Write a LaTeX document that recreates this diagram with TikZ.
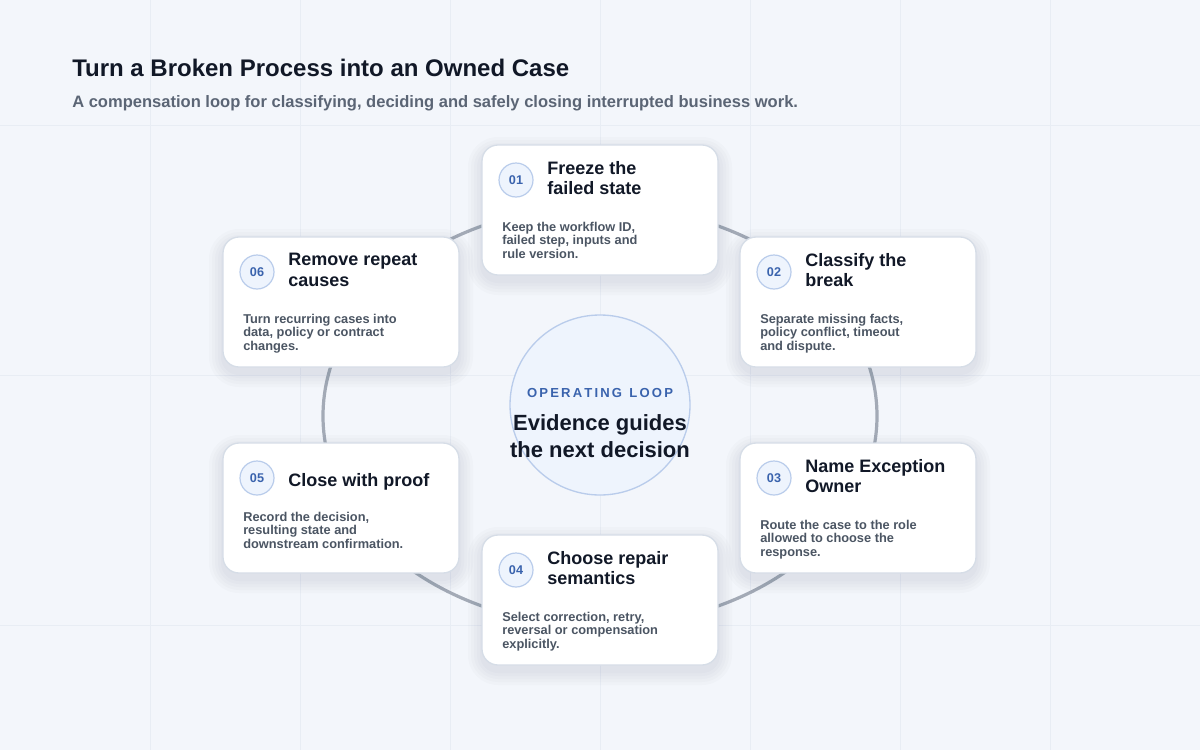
\documentclass[tikz,border=0pt]{standalone}
\usepackage{fontspec}
\setmainfont{Liberation Sans}
\definecolor{bg}{HTML}{F3F6FB}
\definecolor{gridc}{HTML}{E8EDF4}
\definecolor{ring}{HTML}{A3AAB6}
\definecolor{cardb}{HTML}{D6DDE7}
\definecolor{badgef}{HTML}{EEF4FD}
\definecolor{badged}{HTML}{B9CCEB}
\definecolor{blu}{HTML}{3A63AD}
\definecolor{ink}{HTML}{111827}
\definecolor{body}{HTML}{4B5563}
\definecolor{sub}{HTML}{5B6575}
\definecolor{shd}{HTML}{33415C}
\tikzset{
 card/.style={draw=cardb,line width=1pt,fill=white,rounded corners=12pt},
 badge/.style={circle,draw=badged,fill=badgef,line width=0.9pt,minimum size=25.5pt,inner sep=0pt,text=blu,font=\bfseries\fontsize{9.5}{10}\selectfont},
 ctitle/.style={anchor=north west,align=left,text=ink,font=\bfseries\fontsize{13.5}{15.5}\selectfont,inner sep=0pt},
 cbody/.style={anchor=north west,align=left,text=body,font=\bfseries\fontsize{9.6}{10}\selectfont,inner sep=0pt}
}
\newcommand{\cardbox}[2]{%
 \foreach \s in {2,5,8,11,14}{
  \fill[shd,opacity=0.018,rounded corners=12pt+\s*0.75pt] (#1-\s,#2-\s+6) rectangle ++(236+2*\s,130+2*\s);
 }
 \draw[card] (#1,#2) rectangle ++(236,130);
}
\newcommand{\mycard}[5]{% name x y title body
 \cardbox{#2}{#3}
 \node[badge] (#1b) at (#2+34,#3+35) {#1};
 \node[ctitle] (#1t) at (#2+65,#3+16) {#4};
 \node[cbody] (#1x) at (#2+20,#3+77) {#5};
}
\begin{document}
\begin{tikzpicture}[x=0.75pt,y=-0.75pt]
\fill[bg] (0,0) rectangle (1200,750);
\useasboundingbox (0,0) rectangle (1200,750);
\foreach \gx in {150,300,...,1050} \draw[gridc,line width=0.6pt] (\gx,0) -- (\gx,750);
\foreach \gy in {125,375,625} \draw[gridc,line width=0.6pt] (0,\gy) -- (1200,\gy);
\node[anchor=west,inner sep=0pt,text=ink,font=\bfseries\fontsize{18}{20}\selectfont] (title) at (72,68) {Turn a Broken Process into an Owned Case};
\node[anchor=west,inner sep=0pt,text=sub,font=\bfseries\fontsize{12.4}{14}\selectfont] (subt) at (72,103) {A compensation loop for classifying, deciding and safely closing interrupted business work.};
\draw[ring,line width=2.4pt] (600,416) ellipse [x radius=277, y radius=210];
\node[circle,draw=badged,fill=badgef,line width=1pt,minimum size=135pt,inner sep=0pt] (hub) at (600,405) {};
\node[text=blu,font=\bfseries\fontsize{9.8}{11}\selectfont,inner sep=0pt] (hl) at (600,393) {O\,P\,E\,R\,A\,T\,I\,N\,G\ \ L\,O\,O\,P};
\node[text=ink,align=center,font=\bfseries\fontsize{16.5}{20}\selectfont,inner sep=0pt] (ht) at (600,436) {Evidence guides\\the next decision};
\mycard{01}{482}{145}{Freeze the\\failed state}{Keep the workflow ID,\\failed step, inputs and\\rule version.}
\mycard{02}{740}{237}{Classify the\\break}{Separate missing facts,\\policy conflict, timeout\\and dispute.}
\mycard{03}{740}{443}{Name Exception\\Owner}{Route the case to the role\\allowed to choose the\\response.}
\mycard{04}{482}{535}{Choose repair\\semantics}{Select correction, retry,\\reversal or compensation\\explicitly.}
\cardbox{223}{443}
\node[badge] (05b) at (257,478) {05};
\node[anchor=west,inner sep=0pt,text=ink,font=\bfseries\fontsize{13.5}{15.5}\selectfont] (05t) at (288,482) {Close with proof};
\node[cbody] (05x) at (243,512) {Record the decision,\\resulting state and\\downstream confirmation.};
\mycard{06}{223}{237}{Remove repeat\\causes}{Turn recurring cases into\\data, policy or contract\\changes.}
\end{tikzpicture}
\end{document}
